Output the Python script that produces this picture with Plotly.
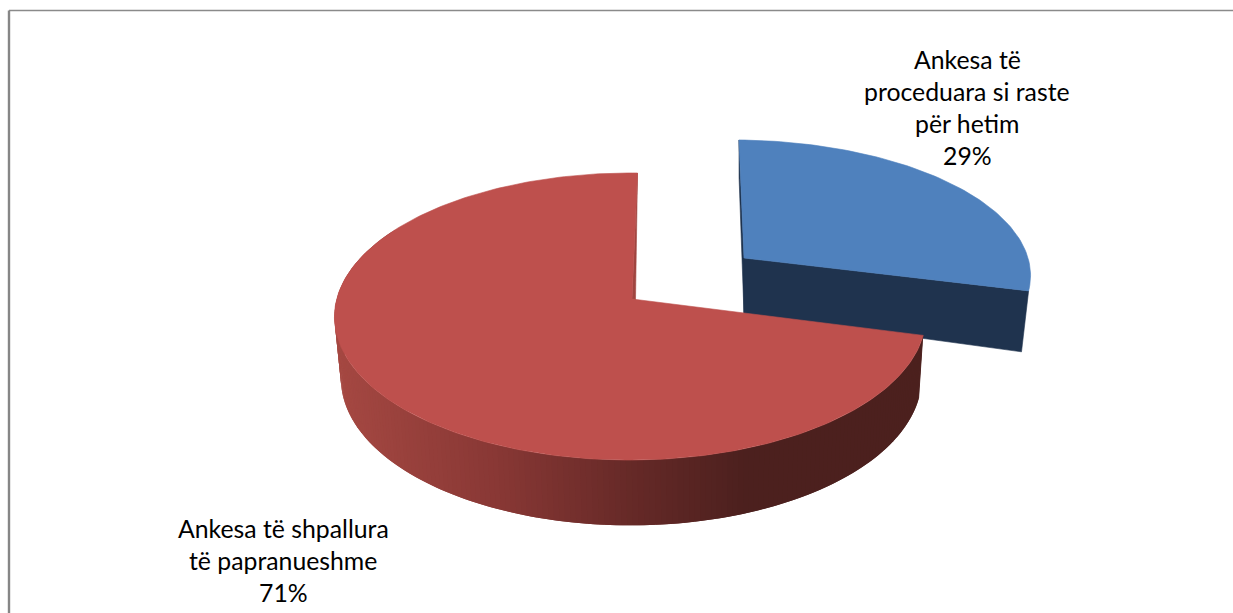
import math
import plotly.graph_objects as go

# ---- data ----
categories = [["Ankesa të", "proceduara si raste", "për hetim"],
              ["Ankesa të shpallura", "të papranueshme"]]
values = [29, 71]

# ---- styling / projection settings ----
W, H = 1233, 613
TOP_COLORS = ["#4F81BD", "#BE504D"]
NAVY = "#1F334E"
K, M = 0.115, 0.0246          # perspective terms
GEOM = [
    dict(x0=744, y0=258, A=291, B=131.6, s=-5.6, xb=744, yb=314, fx=0.975, fy=1.15, ax=744, ay=258),
    dict(x0=637.5, y0=300, A=293.6, B=141.6, s=0, xb=638.5, yb=361, fx=0.982, fy=1.027, ax=632, ay=299),
]
LABELS = [dict(x=967, y0=59), dict(x=283, y0=528)]
LINE_STEP = 32
FONT = dict(family="Lato, Carlito, Calibri, sans-serif", size=24.8, color="#000000")
STOPS = [(340, (165, 72, 66)), (500, (137, 56, 53)), (640, (101, 41, 39)),
         (750, (76, 32, 30)), (2000, (75, 31, 29))]


def rim(g, deg, bottom=False):
    t = math.radians(deg)
    X, Z = math.sin(t), math.cos(t)
    d = 1 + K * Z + M * X
    dx, dy = (g["A"] * X + g["s"] * Z) / d, -g["B"] * Z / d
    if bottom:
        return g["xb"] + g["fx"] * dx, g["yb"] + g["fy"] * dy
    return g["x0"] + dx, g["y0"] + dy


def wall_color(x):
    for (a, ca), (b, cb) in zip(STOPS, STOPS[1:]):
        if x <= b:
            f = max(0, (x - a) / (b - a))
            return "rgb(%d,%d,%d)" % tuple(round(p + (q - p) * f) for p, q in zip(ca, cb))
    return "rgb(%d,%d,%d)" % STOPS[-1][1]


def poly(points, color, lw=0.6):
    xs = [p[0] for p in points] + [points[0][0]]
    ys = [p[1] for p in points] + [points[0][1]]
    return go.Scatter(x=xs, y=ys, mode="lines", fill="toself", fillcolor=color,
                      line=dict(color=color, width=lw), hoverinfo="skip", showlegend=False)


total = sum(values)
angles = [0]
for v in values:
    angles.append(angles[-1] + 360 * v / total)

fig = go.Figure()

# blue slice: 0 .. split
blue = GEOM[0]
split = angles[1]
apex_b = (blue["ax"], blue["ay"])
apex_b_low = (blue["xb"], blue["yb"])
fig.add_trace(poly([rim(blue, 0), apex_b, apex_b_low, rim(blue, 0, True)], NAVY))
fig.add_trace(poly([apex_b, rim(blue, split), rim(blue, split, True), apex_b_low], NAVY))
fig.add_trace(poly([apex_b] + [rim(blue, split * i / 80) for i in range(81)], TOP_COLORS[0]))

# red slice: split .. 360 (walls painted from the left so neighbours overlap without seams)
red = GEOM[1]
apex_r = (red["ax"], red["ay"])
step = 1.0
a = 300.0
while a > split:
    lo = max(a - step, split)
    quad = [rim(red, lo, False), rim(red, a + 1, False), rim(red, a + 1, True), rim(red, lo, True)]
    mid = [rim(red, (lo + a) / 2, False), rim(red, (lo + a) / 2, True)]
    fig.add_trace(poly(quad, wall_color((mid[0][0] + mid[1][0]) / 2), lw=0))
    a = lo
fig.add_trace(poly([rim(red, 360), apex_r, (apex_r[0] + 3.5, apex_r[1] + 1)], "#A04540"))
n = 240
fig.add_trace(poly([apex_r] + [rim(red, split + (360 - split) * i / n) for i in range(n + 1)],
                   TOP_COLORS[1]))

# labels
for cat, v, pos in zip(categories, values, LABELS):
    pct = f"{round(100 * v / total)}%"
    for i, line in enumerate(cat + [pct]):
        fig.add_annotation(x=pos["x"], y=pos["y0"] + i * LINE_STEP, text=line, showarrow=False,
                           xanchor="center", yanchor="middle", font=FONT)

# chart-area frame
fig.add_shape(type="line", x0=9, x1=W, y0=10.5, y1=10.5, line=dict(color="#8A8A8A", width=1.6))
fig.add_shape(type="line", x0=9, x1=9, y0=10.5, y1=H, line=dict(color="#868686", width=2.4))

fig.update_layout(
    width=W, height=H, margin=dict(l=0, r=0, t=0, b=0),
    paper_bgcolor="white", plot_bgcolor="white", showlegend=False,
    xaxis=dict(range=[0, W], visible=False, fixedrange=True),
    yaxis=dict(range=[H, 0], visible=False, fixedrange=True),
)
fig.write_html("out.html", post_script="document.body.style.margin='0';document.body.style.overflow='hidden';",
               config={"displayModeBar": False})
